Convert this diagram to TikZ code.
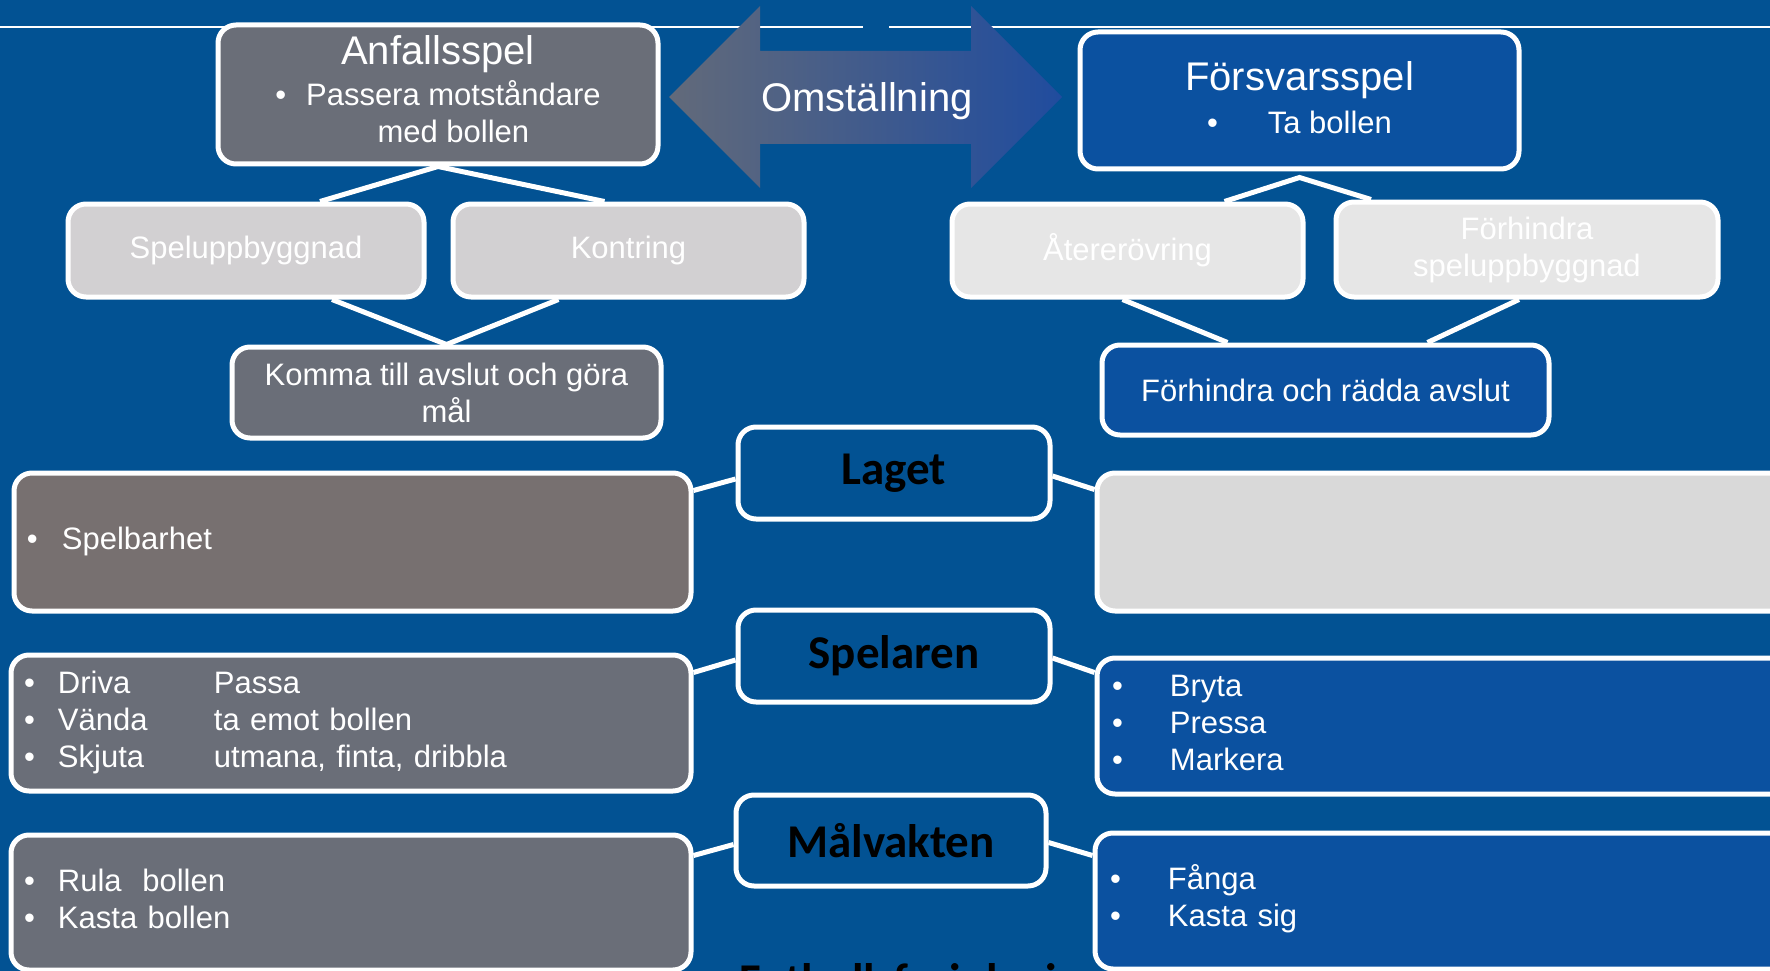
\documentclass[tikz,border=0pt]{standalone}
\usepackage{fontspec}
\setmainfont{Liberation Sans}
\newfontfamily\lblfont{Carlito}
\usepackage{xcolor}
\usepackage{tikz}
\definecolor{bgb}{RGB}{2,82,147}
\definecolor{grb}{RGB}{106,110,120}
\definecolor{brg}{RGB}{119,112,112}
\definecolor{blb}{RGB}{11,81,160}
\definecolor{lg1}{RGB}{210,208,210}
\definecolor{lg2}{RGB}{230,230,230}
\definecolor{lg3}{RGB}{217,217,217}
\definecolor{arl}{RGB}{98,106,122}
\definecolor{arr}{RGB}{32,76,158}
\newcommand\ttl{\fontsize{40}{44}\selectfont}
\setlength{\parindent}{0pt}
\pgfdeclarelayer{bottom}\pgfdeclarelayer{links}
\pgfsetlayers{bottom,links,main}

\begin{document}
\begin{tikzpicture}[x=1pt,y=-1pt,font=\fontsize{31}{37}\selectfont,
  bx/.style={draw=white,line width=5pt,rounded corners=18pt,inner sep=0pt,text=white},
  gry/.style={bx,fill=grb},
  brn/.style={bx,fill=brg},
  blu/.style={bx,fill=blb},
  pale/.style={bx,fill=lg1},
  paler/.style={bx,fill=lg2},
  hub/.style={bx,fill=bgb,text=black,font=\lblfont\bfseries\fontsize{47}{50}\selectfont,minimum width=312pt,minimum height=92pt},
  lst/.style={align=left,inner xsep=13pt},
  lnk/.style={white,line width=5pt}]
  \useasboundingbox (0,0) rectangle (1770,971);
  % top: the two sides and the switch
  \node[gry,minimum width=440pt,minimum height=139pt,align=center] (anf) at (438,94.5)
    {{\ttl Anfallsspel}\\[4pt]\begin{tabular}[t]{@{}c@{\hspace{20pt}}c@{}}•&Passera motståndare\\&med bollen\end{tabular}};
  \node[blu,minimum width=439pt,minimum height=137pt,align=center] (fors) at (1299.5,100.5)
    {{\ttl Försvarsspel}\\[6pt]•\hspace{50pt}Ta bollen\rule[-5pt]{0pt}{5pt}};
  \shade[left color=arl,right color=arr] (669,97) -- (760,6) -- (760,51) -- (971,51) -- (971,6) -- (1062,97)
    -- (971,188) -- (971,144) -- (760,144) -- (760,188) -- cycle;
  \node[text=white,font=\ttl] (omst) at (867,101) {Omställning};
  \node[pale,minimum width=356pt,minimum height=93pt] (spub) at (246,250.5) {Speluppbyggnad};
  \node[pale,minimum width=351pt,minimum height=93pt] (kont) at (628.5,250.5) {Kontring};
  \node[paler,minimum width=351pt,minimum height=93pt] (ater) at (1127.5,250.5) {Återerövring};
  \node[paler,minimum width=382pt,minimum height=95pt,align=center] (fhsp) at (1527,249.5) {Förhindra\\speluppbyggnad};
  \node[gry,minimum width=429pt,minimum height=91pt,align=center] (komm) at (446.5,392.5) {Komma till avslut och göra\\mål};
  \node[blu,minimum width=447pt,minimum height=90pt] (fhra) at (1325.5,390) {Förhindra och rädda avslut};
  % middle column
  \node[hub] (laget) at (894,473) {Laget};
  \node[hub] (spel) at (894,656) {Spelaren};
  \node[hub,minimum width=310pt,minimum height=91pt] (malv) at (891,840.5) {Målvakten};
  % left lists
  \node[brn,lst,text width=651pt,minimum width=677pt,minimum height=138pt] (sbar) at (352.5,542)
    {\begin{tabular}{@{}p{35pt}@{}l@{}}•&Spelbarhet\end{tabular}};
  \node[gry,lst,text width=654pt,minimum width=680pt,minimum height=136pt] (driv) at (351,723)
    {\begin{tabular}{@{}p{34pt}@{}p{156pt}@{}l@{}}•&Driva&Passa\\•&Vända&ta emot bollen\\•&Skjuta&utmana, finta, dribbla\end{tabular}};
  \node[gry,lst,text width=654pt,minimum width=680pt,minimum height=135pt] (rula) at (351,902.5)
    {\begin{tabular}{@{}p{34pt}@{}l@{}}•&Rula~~bollen\\•&Kasta bollen\end{tabular}};
  % right lists
  \node[bx,fill=lg3,minimum width=703pt,minimum height=138pt] (lagr) at (1448.5,542) {};
  \node[blu,lst,inner xsep=15pt,text width=673pt,minimum width=703pt,minimum height=136pt] (bryt) at (1448.5,726)
    {\begin{tabular}{@{}p{58pt}@{}l@{}}•&Bryta\\•&Pressa\\•&Markera\end{tabular}};
  \node[blu,lst,inner xsep=15pt,text width=675pt,minimum width=705pt,minimum height=136pt] (fang) at (1447.5,901)
    {\begin{tabular}{@{}p{58pt}@{}l@{}}•&Fånga\\•&Kasta sig\end{tabular}};
  \node[font=\lblfont\bfseries\fontsize{47}{50}\selectfont,anchor=base west,inner sep=0pt] (fotb) at (739,996) {Fotbollsfysiologi};
  \begin{pgfonlayer}{links}
  \draw[lnk] ([xshift=74pt]spub.north) -- (anf.south) -- ([xshift=-24pt]kont.north);
  \draw[lnk] ([xshift=86pt]spub.south) -- (komm.north) -- ([xshift=-70pt]kont.south);
  \draw[lnk] ([xshift=97pt]ater.north) -- ([yshift=-6pt]fors.south) -- ([xshift=-156pt]fhsp.north);
  \draw[lnk] ([xshift=-5pt]ater.south) -- ([xshift=-98pt]fhra.north);
  \draw[lnk] ([xshift=-8pt]fhsp.south) -- ([xshift=102pt]fhra.north);
  \draw[lnk] ([yshift=-20pt]sbar.north east) -- ([yshift=-6pt]laget.west);
  \draw[lnk] ([yshift=-3pt]laget.east) -- ([yshift=-19pt]lagr.north west);
  \draw[lnk] ([yshift=-20pt]driv.north east) -- ([yshift=-4pt]spel.west);
  \draw[lnk] ([yshift=-2pt]spel.east) -- ([yshift=-17pt]bryt.north west);
  \draw[lnk] ([yshift=-23pt]rula.north east) -- ([yshift=-4pt]malv.west);
  \draw[lnk] ([yshift=-2pt]malv.east) -- ([yshift=-25pt]fang.north west);
  \end{pgfonlayer}
  \begin{pgfonlayer}{bottom}
  \fill[bgb] (0,0) rectangle (1770,971);
  \draw[white,line width=2pt] (0,27.5) -- (863,27.5) (889,27.5) -- (1770,27.5);
  \end{pgfonlayer}
\end{tikzpicture}
\end{document}
